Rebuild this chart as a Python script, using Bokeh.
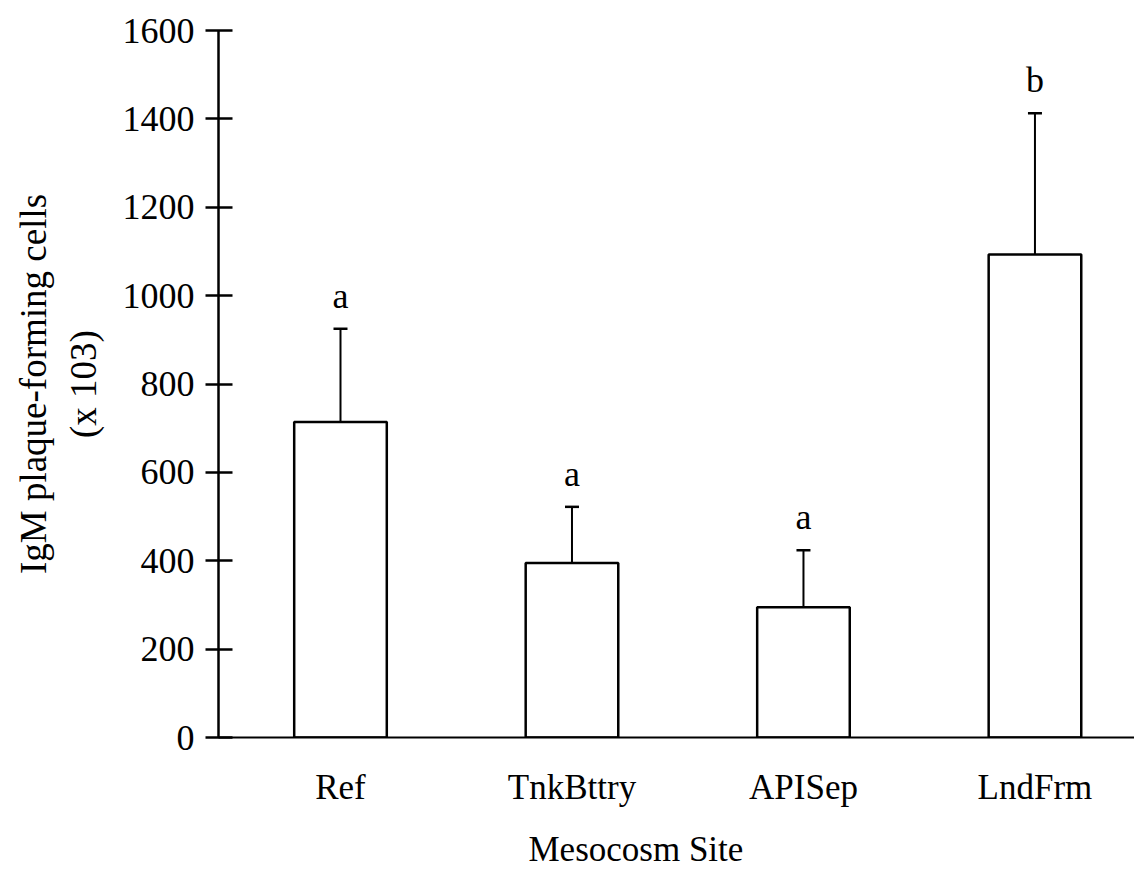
from bokeh.plotting import figure
from bokeh.models import ColumnDataSource, FixedTicker, Whisker, TeeHead, Range1d, Title
from bokeh.core.properties import value
from bokeh.embed import file_html
from bokeh.resources import INLINE

sites = ["Ref", "TnkBttry", "APISep", "LndFrm"]
means = [714, 395, 295, 1093]
errors = [211, 127, 129, 320]
letters = ["a", "a", "a", "b"]
y_ticks = [0, 200, 400, 600, 800, 1000, 1200, 1400, 1600]

xs = list(range(1, len(sites) + 1))
upper = [m + e for m, e in zip(means, errors)]

src = ColumnDataSource(dict(x=xs, mean=means, upper=upper, letter=letters))

FONT = "Liberation Serif"

p = figure(width=1134, height=889, output_backend="svg", toolbar_location=None,
           x_range=Range1d(0.473, 4.43), y_range=Range1d(0, 1600),
           min_border_left=218, min_border_right=0, min_border_top=30, min_border_bottom=152)
p.outline_line_color = None
p.xgrid.visible = False
p.ygrid.visible = False
p.background_fill_color = "white"
p.border_fill_color = "white"

p.vbar(x="x", top="mean", bottom=0, width=0.4, source=src,
       fill_color="white", line_color="black", line_width=2.5)

w = Whisker(base="x", lower="mean", upper="upper", source=src,
            line_color="black", line_width=2,
            lower_head=None,
            upper_head=TeeHead(size=14, line_color="black", line_width=2.5))
p.add_layout(w)

p.text(x="x", y="upper", text="letter", source=src, y_offset=-33,
       text_align="center", text_baseline="alphabetic",
       text_font=value(FONT), text_font_size="36px", text_color="black")

# y axis
ya = p.yaxis[0]
ya.ticker = FixedTicker(ticks=y_ticks)
ya.axis_line_width = 2.5
ya.axis_line_color = "black"
ya.major_tick_in = 14
ya.major_tick_out = 13
ya.major_tick_line_width = 2.5
ya.minor_tick_in = 0
ya.minor_tick_out = 0
ya.major_label_text_font = FONT
ya.major_label_text_font_size = "36px"
ya.major_label_text_color = "black"
ya.major_label_standoff = 11
ya.axis_label = "IgM plaque-forming cells\n(x 103)"
ya.axis_label_text_font = FONT
ya.axis_label_text_font_size = "37px"
ya.axis_label_text_font_style = "normal"
ya.axis_label_text_color = "black"
ya.axis_label_standoff = 16

# x axis
xa = p.xaxis[0]
xa.ticker = FixedTicker(ticks=xs)
xa.major_label_overrides = {x: s for x, s in zip(xs, sites)}
xa.axis_line_width = 2
xa.axis_line_color = "black"
xa.major_tick_in = 0
xa.major_tick_out = 0
xa.minor_tick_in = 0
xa.minor_tick_out = 0
xa.major_label_text_font = FONT
xa.major_label_text_font_size = "35px"
xa.major_label_text_color = "black"
xa.major_label_standoff = 30

xt = Title(text="Mesocosm Site", align="left", offset=310, standoff=36,
           text_font=FONT, text_font_size="35px", text_font_style="normal",
           text_color="black")
p.add_layout(xt, "below")

open("out.html", "w").write(file_html(p, INLINE))
